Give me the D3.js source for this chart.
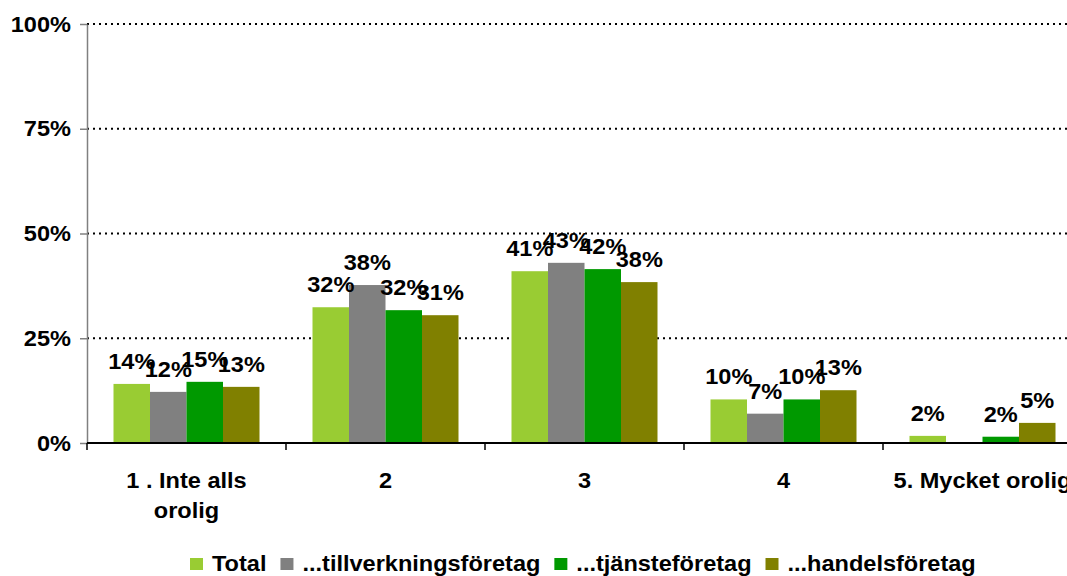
<!DOCTYPE html>
<html>
<head>
<meta charset="utf-8">
<script src="https://cdn.jsdelivr.net/npm/d3@7"></script>
<style>
  html, body { margin: 0; padding: 0; background: #fff; }
  svg { display: block; }
  text { font-family: "Liberation Sans", Arial, sans-serif; font-weight: bold; fill: #000; }
</style>
</head>
<body>
<svg id="chart" width="1067" height="576"></svg>
<script>
// ---- data ----
const categories = ["1 . Inte alls\norolig", "2", "3", "4", "5. Mycket orolig"];
const seriesNames = ["Total", "...tillverkningsföretag", "...tjänsteföretag", "...handelsföretag"];
const seriesColors = ["#99CC33", "#808080", "#009900", "#808000"];
const totalValues = [14.1, 32.4, 41.0, 10.4, 1.7];
const tillverkningValues = [12.2, 37.7, 43.0, 7.0, 0];
const tjansteValues = [14.6, 31.7, 41.5, 10.4, 1.5];
const handelsValues = [13.4, 30.5, 38.4, 12.6, 4.8];
const seriesValues = [totalValues, tillverkningValues, tjansteValues, handelsValues];
const yTicks = [0, 25, 50, 75, 100];

// ---- layout ----
const W = 1067, H = 576;
const plotLeft = 87, groupW = 199, plotTop = 24, plotBottom = 443;
const SX = 1.07; // horizontal text stretch seen in reference
const FS = 22;

const svg = d3.select("#chart");

const x0 = d3.scaleBand().domain(categories)
  .range([plotLeft, plotLeft + groupW * categories.length]).paddingInner(0).paddingOuter(0);
const x1 = d3.scaleBand().domain(seriesNames)
  .range([26.5, groupW - 26.5]).paddingInner(0);
const y = d3.scaleLinear().domain([0, 100]).range([plotBottom, plotTop]);

// gridlines
svg.append("g").selectAll("line").data(yTicks.filter(d => d > 0)).join("line")
  .attr("x1", plotLeft).attr("x2", W)
  .attr("y1", d => y(d)).attr("y2", d => y(d))
  .attr("stroke", "#000").attr("stroke-width", 2).attr("stroke-dasharray", "2,4");

// bars
const barData = [];
categories.forEach((c, ci) => {
  seriesNames.forEach((s, si) => {
    barData.push({ c, s, si, v: seriesValues[si][ci] });
  });
});
svg.append("g").selectAll("rect").data(barData).join("rect")
  .attr("x", d => x0(d.c) + x1(d.s))
  .attr("width", x1.bandwidth())
  .attr("y", d => y(d.v))
  .attr("height", d => y(0) - y(d.v))
  .attr("fill", d => seriesColors[d.si]);

// y axis
const yAxis = svg.append("g").attr("transform", `translate(${plotLeft},0)`)
  .call(d3.axisLeft(y).tickValues(yTicks).tickFormat(d => d + "%").tickSize(7).tickSizeOuter(0).tickPadding(8));
yAxis.select(".domain").attr("stroke", "#808080").attr("stroke-width", 1.5);
yAxis.selectAll(".tick line").attr("stroke", "#808080").attr("stroke-width", 1.5);
yAxis.selectAll(".tick text")
  .attr("font-size", FS).attr("font-family", "Liberation Sans, Arial, sans-serif")
  .attr("font-weight", "bold").attr("fill", "#000")
  .attr("transform", `scale(${SX},1)`);

// x axis line + ticks
svg.append("line").attr("x1", plotLeft).attr("x2", W).attr("y1", plotBottom).attr("y2", plotBottom)
  .attr("stroke", "#000").attr("stroke-width", 2);
const bounds = categories.map(c => x0(c)).concat([x0.range()[1]]);
svg.append("g").selectAll("line").data(bounds).join("line")
  .attr("x1", d => d).attr("x2", d => d)
  .attr("y1", plotBottom).attr("y2", plotBottom + 7)
  .attr("stroke", "#000").attr("stroke-width", 1.5);

// category labels
categories.forEach(c => {
  const lines = c.split("\n");
  const cx = x0(c) + x0.bandwidth() / 2;
  lines.forEach((ln, i) => {
    svg.append("text")
      .attr("transform", `translate(${cx},${488 + i * 30}) scale(${SX},1)`)
      .attr("text-anchor", "middle").attr("font-size", FS).text(ln);
  });
});

// data labels
svg.append("g").selectAll("text").data(barData.filter(d => d.v > 0)).join("text")
  .attr("transform", d => `translate(${x0(d.c) + x1(d.s) + x1.bandwidth() / 2},${y(d.v) - 15}) scale(${SX},1)`)
  .attr("text-anchor", "middle").attr("font-size", FS)
  .text(d => Math.round(d.v) + "%");

// legend
let lx = 190;
const ly = 571;
seriesNames.forEach((s, i) => {
  svg.append("rect").attr("x", lx).attr("y", ly - 13).attr("width", 13).attr("height", 12)
    .attr("fill", seriesColors[i]);
  const t = svg.append("text")
    .attr("transform", `translate(${lx + 22},${ly}) scale(${SX},1)`)
    .attr("font-size", FS).text(s);
  const w = t.node().getComputedTextLength() * SX;
  lx += 22 + w + 14;
});
</script>
</body>
</html>
